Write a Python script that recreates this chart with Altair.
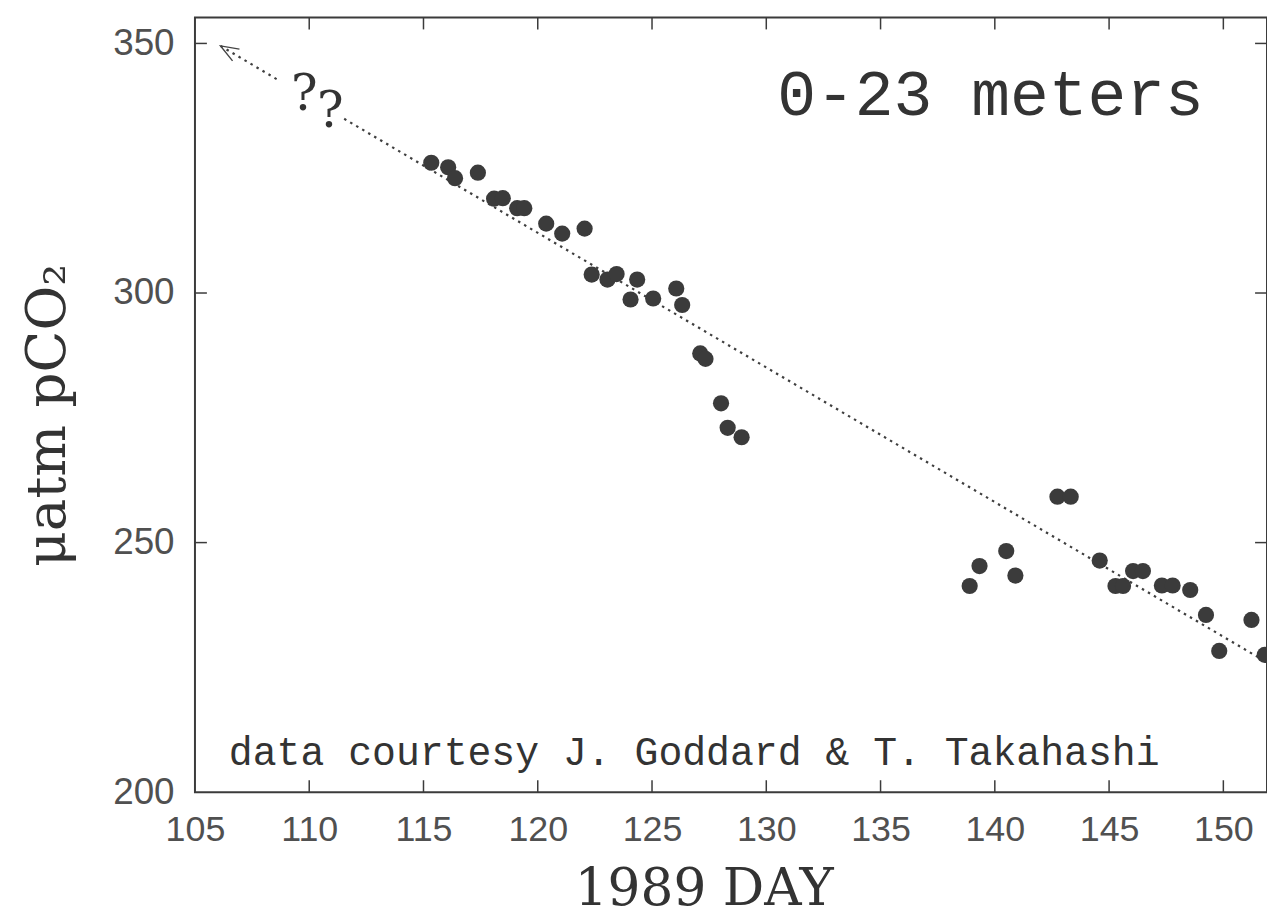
import altair as alt
import pandas as pd

# ---- data ----
days = [115.34, 116.08, 116.38, 117.38, 118.09, 118.47, 119.10, 119.41, 120.37, 121.07,
        122.05, 122.36, 123.05, 123.45, 124.06, 124.35, 125.05, 126.06, 126.32, 127.11,
        127.34, 128.02, 128.31, 128.92, 138.90, 139.33, 140.50, 140.90, 142.74, 143.32,
        144.59, 145.28, 145.61, 146.05, 146.48, 147.31, 147.78, 148.55, 149.24, 149.82,
        151.23, 151.81]
pco2 = [326.1, 325.2, 323.0, 324.1, 318.9, 319.0, 317.0, 317.0, 313.9, 311.9,
        312.9, 303.7, 302.7, 303.8, 298.7, 302.7, 298.9, 300.9, 297.6, 287.9,
        286.8, 277.9, 273.0, 271.1, 241.3, 245.3, 248.3, 243.4, 259.2, 259.2,
        246.4, 241.3, 241.3, 244.3, 244.3, 241.4, 241.4, 240.5, 235.5, 228.3,
        234.5, 227.5]

# dotted trend line (two pieces, broken by the "??")
fit_day = [106.12, 108.74, 111.53, 152.0]
fit_pco2 = [349.5, 342.4, 334.9, 225.75]
fit_seg = ["a", "a", "b", "b"]
arrow_day = [106.12]
arrow_pco2 = [349.5]

x_label_values = [105, 110, 115, 120, 125, 130, 135, 140, 145, 150]
x_tick_values = [110, 115, 120, 125, 130, 135, 140, 145, 150]
y_label_values = [200, 250, 300, 350]
y_tick_values = [250, 300, 350]

X_DOMAIN = [105, 151.91]
Y_DOMAIN = [200, 355.2]
W, H = 1078, 779
TICK = 12
INK = "#3b3b3b"

xs = alt.Scale(domain=X_DOMAIN, nice=False, zero=False)
ys = alt.Scale(domain=Y_DOMAIN, nice=False, zero=False)

x_axis = alt.Axis(values=x_label_values, title=None, ticks=False, tickSize=0, domain=False,
                  grid=False, labelFont="Liberation Sans", labelFontSize=36,
                  labelColor="#505050", labelPadding=21, labelFlush=False, labelOverlap=False)
y_axis = alt.Axis(values=y_label_values, title=None, ticks=False, tickSize=0, domain=False,
                  grid=False, labelFont="Liberation Sans", labelFontSize=37,
                  labelColor="#505050", labelPadding=21, labelFlush=False, labelOverlap=False)


def X(field="day"):
    return alt.X(f"{field}:Q", scale=xs, axis=x_axis)


def Y(field="pco2"):
    return alt.Y(f"{field}:Q", scale=ys, axis=y_axis)


pts_df = pd.DataFrame({"day": days, "pco2": pco2})
fit_df = pd.DataFrame({"day": fit_day, "pco2": fit_pco2, "seg": fit_seg})
arrow_df = pd.DataFrame({"day": arrow_day, "pco2": arrow_pco2})
xt_df = pd.DataFrame({"day": x_tick_values})
yt_df = pd.DataFrame({"pco2": y_tick_values})

points = alt.Chart(pts_df).mark_circle(size=265, color=INK, opacity=1).encode(x=X(), y=Y())

fit = alt.Chart(fit_df).mark_line(
    strokeDash=[2.5, 4.5], strokeWidth=2.2, color="#3f3f3f", clip=True
).encode(x=X(), y=Y(), detail="seg:N")

arrow = alt.Chart(arrow_df).mark_point(
    shape="M -1 -0.38 L 0 0 L -1 0.38", size=1300, angle=210.5, filled=False,
    color="#444444", strokeWidth=1.4, opacity=1
).encode(x=X(), y=Y())

tick_style = dict(color=INK, strokeWidth=1.5)
bottom_ticks = alt.Chart(xt_df).mark_rule(**tick_style).encode(
    x=X(), y=alt.value(H), y2=alt.value(H - TICK))
top_ticks = alt.Chart(xt_df).mark_rule(**tick_style).encode(
    x=X(), y=alt.value(0), y2=alt.value(TICK))
left_ticks = alt.Chart(yt_df).mark_rule(**tick_style).encode(
    y=Y(), x=alt.value(0), x2=alt.value(TICK))
right_ticks = alt.Chart(yt_df).mark_rule(**tick_style).encode(
    y=Y(), x=alt.value(W), x2=alt.value(W - TICK))


def label(txt, px, py, font, size, align="center", baseline="alphabetic", angle=0, color="#333333"):
    kw = dict(font=font, fontSize=size, align=align, baseline=baseline, color=color)
    if angle:
        kw["angle"] = angle
    return alt.Chart(pd.DataFrame({"t": [txt]})).mark_text(**kw).encode(
        text="t:N", x=alt.value(px), y=alt.value(py))


depth = label("0-23 meters", 800, 98, "Liberation Mono", 65)
credit = label("data courtesy J. Goddard & T. Takahashi", 502, 752, "Liberation Mono", 40)
q1 = label("?", 110, 93, "DejaVu Serif", 50)
q2 = label("?", 136, 110, "DejaVu Serif", 50)
xtitle = label("1989 DAY", 512, 892, "DejaVu Serif", 52)
ytitle = label("μatm pCO₂", -131, 400, "DejaVu Serif", 55, angle=270)

chart = alt.layer(
    fit, arrow, points, bottom_ticks, top_ticks, left_ticks, right_ticks,
    depth, credit, q1, q2, xtitle, ytitle
).properties(
    width=W, height=H,
    autosize=alt.AutoSizeParams(type="none"),
    padding={"left": 188, "top": 7, "right": 0, "bottom": 124},
    background="white",
).configure_view(stroke=INK, strokeWidth=2)

chart.save("out.html", embed_options={"renderer": "svg", "actions": False})
